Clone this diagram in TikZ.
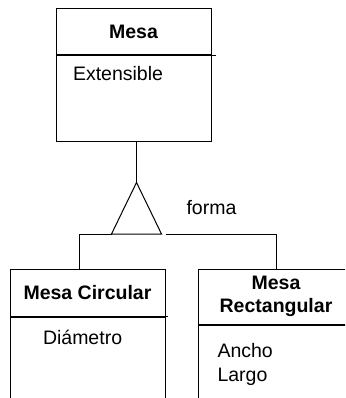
\documentclass[tikz,border=0pt]{standalone}
\usepackage{fontspec}
\setmainfont{Liberation Sans}
\usetikzlibrary{positioning}

\newcommand{\umlfont}{\fontsize{19.5}{23.5}\selectfont}

\tikzset{
    classname/.style={rectangle, draw=black, minimum width=155pt, inner sep=0pt, font=\umlfont\bfseries, align=center},
    classbody/.style={rectangle, draw=black, minimum width=155pt, inner sep=0pt},
    attr/.style={inner sep=0pt, anchor=base west, font=\umlfont},
}

\begin{document}
\begin{tikzpicture}[x=1pt, y=-1pt, line width=1pt]
    \clip (0,0) rectangle (345,398);

    % superclass
    \node (mesa) [classname, minimum height=46pt] at (133.5,32) {Mesa};
    \node (mesaBody) [classbody, minimum height=86pt, below=0pt of mesa] {};
    \draw (mesa.south east) -- ++(4,0);
    \node (extensible) [attr] at ([shift={(17,25)}]mesaBody.north west) {Extensible};

    % subclasses
    \node (circ) [classname, minimum height=47pt] at (87.5,292.5) {Mesa Circular};
    \node (circBody) [classbody, minimum height=100pt, below=0pt of circ] {};
    \draw (circ.south east) -- ++(2,0);
    \node (diametro) [attr] at ([shift={(33,27.5)}]circBody.north west) {Diámetro};

    \node (rect) [classname, minimum height=55pt] at (276,296.5) {Mesa\\Rectangular};
    \node (rectBody) [classbody, minimum height=90pt, below=0pt of rect] {};
    \node (ancho) [attr] at ([shift={(19,33)}]rectBody.north west) {Ancho};
    \node (largo) [attr] at ([shift={(19,56.5)}]rectBody.north west) {Largo};

    % generalization
    \coordinate (apex) at (136.5,182.5);
    \coordinate (baseL) at (111.5,234);
    \coordinate (baseR) at (161.5,234);
    \draw (apex) -- (baseL) -- (baseR) -- cycle;
    \draw (apex) -- (apex |- mesaBody.south);
    \draw (baseL) -| ([xshift=-8.5pt]circ.north);
    \draw ([xshift=4pt]baseR) -| (rect.north);
    \node (forma) [attr] at (186,214) {forma};
\end{tikzpicture}
\end{document}
